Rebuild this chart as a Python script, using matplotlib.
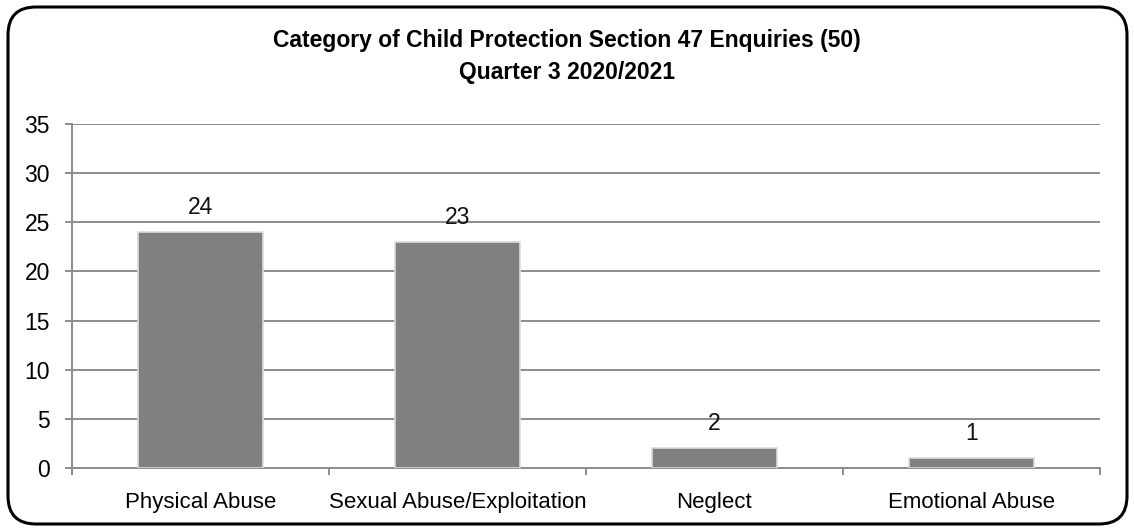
import matplotlib
matplotlib.use("Agg")
import matplotlib.pyplot as plt
from matplotlib.patches import FancyBboxPatch

# Chart data
categories = ["Physical Abuse", "Sexual Abuse/Exploitation", "Neglect", "Emotional Abuse"]
counts = [24, 23, 2, 1]
y_ticks = [0, 5, 10, 15, 20, 25, 30, 35]
title_lines = ["Category of Child Protection Section 47 Enquiries (50)", "Quarter 3 2020/2021"]

plt.rcParams["font.family"] = ["Liberation Sans", "DejaVu Sans"]

fig = plt.figure(figsize=(11.34, 5.30), dpi=100)
ax = fig.add_axes([72 / 1134, 1 - 468 / 530, (1100 - 72) / 1134, (468 - 124) / 530])

# rounded outer frame
frame = FancyBboxPatch((0.08, 0.06), 11.19, 5.17,
                       boxstyle="round,pad=0,rounding_size=0.28",
                       transform=fig.dpi_scale_trans, facecolor="none",
                       edgecolor="black", linewidth=2.2, zorder=10)
fig.patches.append(frame)

grey = "#8c8c8c"

x = list(range(len(categories)))
ax.bar(x, counts, width=0.49, color="#808080", edgecolor="#dcdcdc",
       linewidth=1.2, zorder=3)

for xi, v in zip(x, counts):
    ax.text(xi, v + 1.85, str(v), ha="center", va="baseline", fontsize=16.5, color="#111111")

ax.set_xlim(-0.5, len(categories) - 0.5)
ax.set_ylim(0, 35)
ax.set_yticks(y_ticks)
ax.set_yticklabels([str(t) for t in y_ticks], fontsize=16.5)
ax.set_xticks(x)
ax.set_xticklabels(categories, fontsize=16)
ax.tick_params(axis="x", length=0, pad=17)
ax.tick_params(axis="y", length=5, width=1.4, color=grey, pad=11)

# category boundary ticks below the x axis
for b in [i - 0.5 for i in range(len(categories) + 1)]:
    ax.plot([b, b], [0, -0.6], color=grey, lw=1.4, clip_on=False, zorder=4)

ax.grid(axis="y", color=grey, linewidth=1.4, zorder=0)
for side in ["top", "right"]:
    ax.spines[side].set_visible(False)
for side in ["left", "bottom"]:
    ax.spines[side].set_color(grey)
    ax.spines[side].set_linewidth(1.4)

fig.text(0.5, 1 - 41 / 530, title_lines[0], ha="center", va="center",
         fontsize=16.5, fontweight="bold")
fig.text(0.5, 1 - 72 / 530, title_lines[1], ha="center", va="center",
         fontsize=16.5, fontweight="bold")

fig.savefig("out.png", dpi=100)
